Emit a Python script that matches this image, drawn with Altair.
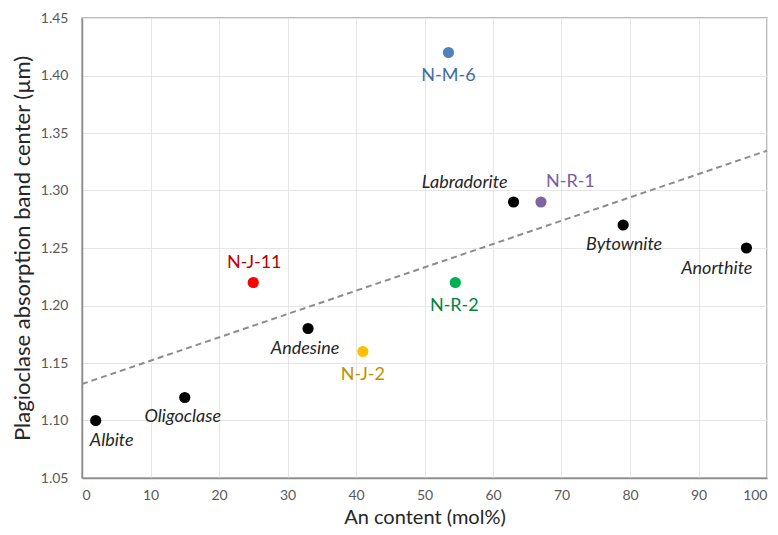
import altair as alt
import pandas as pd

# ---- data ----
names = ["Albite", "Oligoclase", "Andesine", "Labradorite", "Bytownite", "Anorthite",
         "N-J-11", "N-J-2", "N-M-6", "N-R-1", "N-R-2"]
an_content = [2, 15, 33, 63, 79, 97, 25, 41, 53.5, 67, 54.5]
band_center = [1.10, 1.12, 1.18, 1.29, 1.27, 1.25, 1.22, 1.16, 1.42, 1.29, 1.22]
point_colors = ["#000000"] * 6 + ["#FF0000", "#FFC000", "#4F81BD", "#8064A2", "#00B050"]
label_colors = ["#262626"] * 6 + ["#C00000", "#BF9000", "#3F6E9E", "#7A5C9E", "#00853E"]
italic = [True] * 6 + [False] * 5

trend_x = [0, 100]
trend_y = [1.1317, 1.3346]

x_ticks = list(range(0, 101, 10))
y_ticks = [1.05, 1.10, 1.15, 1.20, 1.25, 1.30, 1.35, 1.40, 1.45]

# label placement (style only)
label_dx = [16, -2, -3, -6, 1, 6, 1, 0, 0, 5, -1]
label_dy = [20, 19, 20, -19, 20, 21, -20, 23, 23, -20, 23]
label_align = ["center", "center", "center", "right", "center", "right",
               "center", "center", "center", "left", "center"]

FONT = "Lato"

df = pd.DataFrame({"name": names, "an": an_content, "bc": band_center,
                   "pc": point_colors})
trend = pd.DataFrame({"an": trend_x, "bc": trend_y})

xscale = alt.Scale(domain=[0, 100], nice=False, zero=False)
yscale = alt.Scale(domain=[1.05, 1.45], nice=False, zero=False)

xaxis = alt.Axis(values=x_ticks, title="An content (mol%)", grid=True,
                 gridColor="#E6E6E6", gridWidth=1, domainColor="#8C8C8C", domainWidth=1.5,
                 ticks=False, labelPadding=10, labelFontSize=14, labelColor="#595959",
                 labelFont=FONT, titleFont=FONT, titleFontSize=20, titleFontWeight="normal",
                 titleColor="#262626", titleY=45, titleBaseline="alphabetic")
yaxis = alt.Axis(values=y_ticks, format=".2f",
                 title="Plagioclase absorption band center (\u00b5m)", grid=True,
                 gridColor="#E6E6E6", gridWidth=1, domainColor="#8C8C8C", domainWidth=1.5,
                 ticks=False, labelPadding=14, labelFontSize=14, labelColor="#595959",
                 labelFont=FONT, titleFont=FONT, titleFontSize=22, titleFontWeight="normal",
                 titleColor="#262626", titlePadding=6)

line = alt.Chart(trend).mark_line(color="#8C8C8C", strokeDash=[6, 4], strokeWidth=2).encode(
    x=alt.X("an:Q", scale=xscale, axis=xaxis),
    y=alt.Y("bc:Q", scale=yscale, axis=yaxis),
)

points = alt.Chart(df).mark_circle(size=125, opacity=1).encode(
    x=alt.X("an:Q", scale=xscale),
    y=alt.Y("bc:Q", scale=yscale),
    color=alt.Color("pc:N", scale=None),
)

layers = [line, points]
for i, n in enumerate(names):
    sub = df[df["name"] == n]
    t = alt.Chart(sub).mark_text(
        dx=label_dx[i], dy=label_dy[i], align=label_align[i], baseline="middle",
        font=FONT, fontSize=18, color=label_colors[i],
        fontStyle="italic" if italic[i] else "normal",
    ).encode(
        x=alt.X("an:Q", scale=xscale),
        y=alt.Y("bc:Q", scale=yscale),
        text="name:N",
    )
    layers.append(t)

chart = alt.layer(*layers).properties(
    width=685, height=460,
    autosize=alt.AutoSizeParams(type="none"),
    padding={"left": 74, "top": 10, "right": 3, "bottom": 49},
).configure_view(stroke="#A6A6A6", strokeWidth=1.5)

chart.save("out.html", embed_options={"renderer": "svg", "actions": False})
